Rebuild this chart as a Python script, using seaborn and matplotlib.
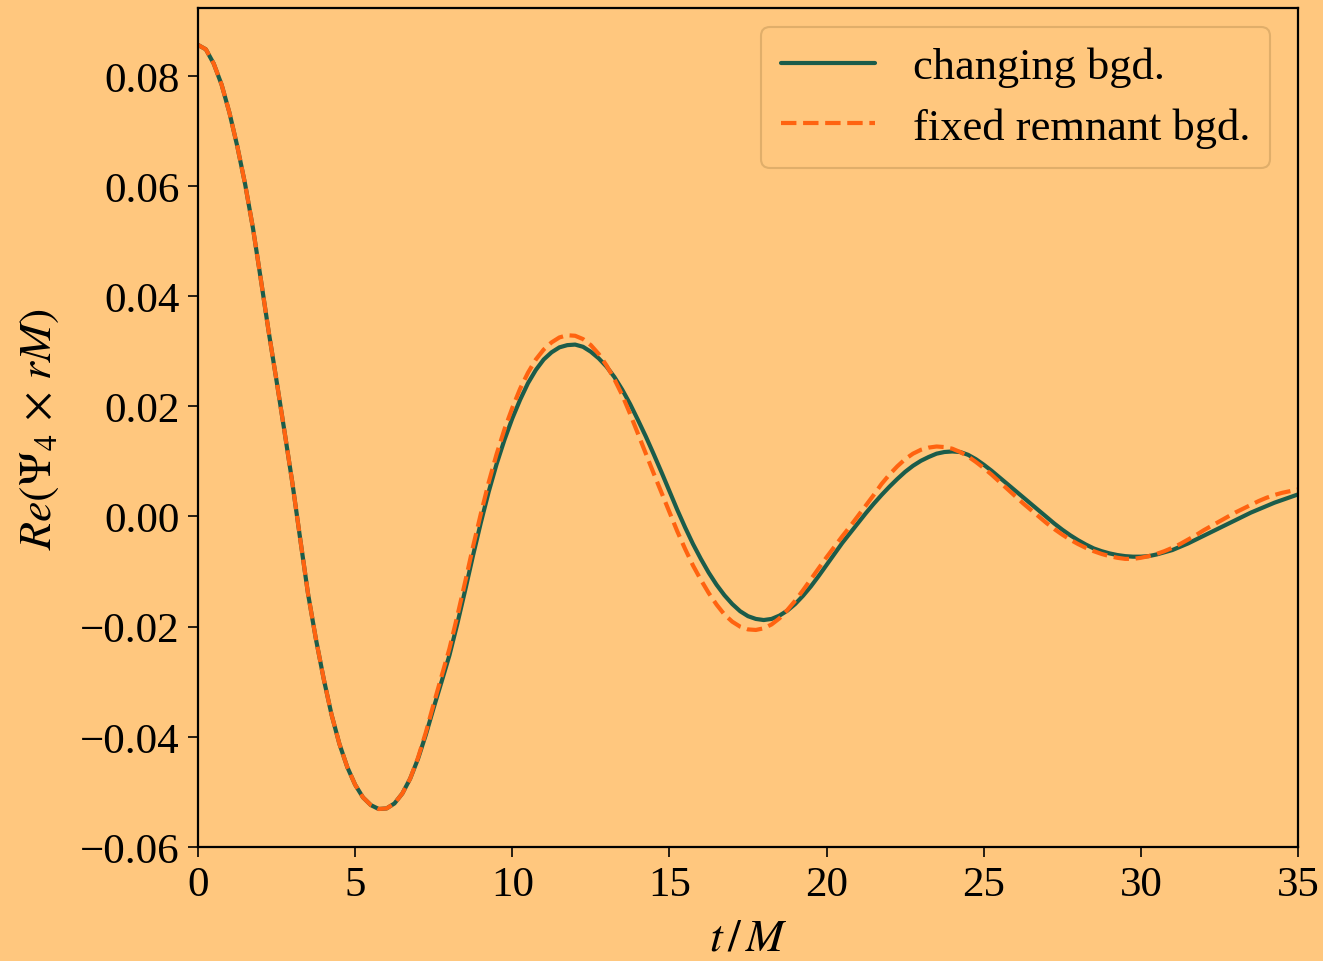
import numpy as np
import pandas as pd
import matplotlib
matplotlib.use("Agg")
import matplotlib.pyplot as plt
import seaborn as sns

# ---- data (t step 0.25) ----
t_vals = [i * 0.25 for i in range(141)]

changing_bgd = [
    0.0856, 0.0848, 0.0822, 0.0784,
    0.0733, 0.0672, 0.0603, 0.0523,
    0.0430, 0.0335, 0.0246, 0.0155,
    0.0062, -0.0040, -0.0140, -0.0222,
    -0.0295, -0.0360, -0.0413, -0.0455,
    -0.0487, -0.0510, -0.0524, -0.0531,
    -0.0530, -0.0521, -0.0503, -0.0476,
    -0.0440, -0.0396, -0.0347, -0.0300,
    -0.0252, -0.0195, -0.0134, -0.0071,
    -0.0011, 0.0045, 0.0095, 0.0139,
    0.0178, 0.0212, 0.0242, 0.0266,
    0.0285, 0.0298, 0.0307, 0.0311,
    0.0312, 0.0308, 0.0299, 0.0287,
    0.0272, 0.0253, 0.0230, 0.0204,
    0.0175, 0.0145, 0.0113, 0.0080,
    0.0046, 0.0012, -0.0020, -0.0050,
    -0.0077, -0.0102, -0.0124, -0.0143,
    -0.0159, -0.0172, -0.0181, -0.0186,
    -0.0188, -0.0186, -0.0180, -0.0171,
    -0.0159, -0.0144, -0.0127, -0.0108,
    -0.0088, -0.0068, -0.0048, -0.0030,
    -0.0012, 0.0006, 0.0023, 0.0039,
    0.0054, 0.0068, 0.0081, 0.0092,
    0.0101, 0.0108, 0.0114, 0.0117,
    0.0118, 0.0117, 0.0112, 0.0104,
    0.0094, 0.0083, 0.0071, 0.0059,
    0.0047, 0.0035, 0.0023, 0.0011,
    -0.0001, -0.0013, -0.0024, -0.0034,
    -0.0043, -0.0051, -0.0058, -0.0063,
    -0.0067, -0.0070, -0.0072, -0.0073,
    -0.0073, -0.0072, -0.0069, -0.0065,
    -0.0061, -0.0055, -0.0049, -0.0042,
    -0.0035, -0.0028, -0.0021, -0.0014,
    -0.0007, 0.0000, 0.0007, 0.0013,
    0.0019, 0.0025, 0.0030, 0.0035,
    0.0040,
]

fixed_remnant_bgd = [
    0.0856, 0.0848, 0.0822, 0.0784,
    0.0733, 0.0672, 0.0603, 0.0523,
    0.0430, 0.0335, 0.0246, 0.0155,
    0.0062, -0.0040, -0.0140, -0.0222,
    -0.0295, -0.0360, -0.0413, -0.0455,
    -0.0487, -0.0510, -0.0524, -0.0531,
    -0.0530, -0.0521, -0.0503, -0.0476,
    -0.0438, -0.0392, -0.0340, -0.0290,
    -0.0240, -0.0181, -0.0119, -0.0055,
    0.0005, 0.0062, 0.0113, 0.0158,
    0.0197, 0.0232, 0.0261, 0.0285,
    0.0303, 0.0316, 0.0325, 0.0329,
    0.0328, 0.0322, 0.0311, 0.0295,
    0.0274, 0.0249, 0.0220, 0.0186,
    0.0150, 0.0114, 0.0078, 0.0043,
    0.0008, -0.0027, -0.0059, -0.0089,
    -0.0115, -0.0139, -0.0160, -0.0178,
    -0.0191, -0.0200, -0.0205, -0.0206,
    -0.0203, -0.0196, -0.0185, -0.0170,
    -0.0153, -0.0134, -0.0114, -0.0094,
    -0.0074, -0.0055, -0.0036, -0.0018,
    0.0001, 0.0020, 0.0039, 0.0059,
    0.0076, 0.0091, 0.0104, 0.0114,
    0.0121, 0.0125, 0.0127, 0.0126,
    0.0123, 0.0117, 0.0109, 0.0099,
    0.0088, 0.0076, 0.0063, 0.0050,
    0.0037, 0.0024, 0.0012, 0.0000,
    -0.0012, -0.0023, -0.0033, -0.0042,
    -0.0050, -0.0057, -0.0063, -0.0068,
    -0.0072, -0.0075, -0.0077, -0.0077,
    -0.0075, -0.0072, -0.0068, -0.0063,
    -0.0057, -0.0050, -0.0042, -0.0034,
    -0.0025, -0.0017, -0.0009, -0.0001,
    0.0007, 0.0014, 0.0021, 0.0028,
    0.0034, 0.0039, 0.0043, 0.0046,
    0.0049,
]

series_labels = ["changing bgd.", "fixed remnant bgd."]
x_ticks = [0, 5, 10, 15, 20, 25, 30, 35]
y_ticks = [-0.06, -0.04, -0.02, 0.00, 0.02, 0.04, 0.06, 0.08]

df = pd.DataFrame({
    "t": t_vals * 2,
    "val": changing_bgd + fixed_remnant_bgd,
    "series": [series_labels[0]] * len(t_vals) + [series_labels[1]] * len(t_vals),
})

bg = "#FFC77E"
sns.set_theme(style="ticks")
plt.rcParams["font.family"] = ["Liberation Serif", "DejaVu Serif"]
plt.rcParams["mathtext.fontset"] = "stix"
plt.rcParams["axes.unicode_minus"] = True
plt.rcParams["text.color"] = "black"
plt.rcParams["axes.labelcolor"] = "black"
plt.rcParams["xtick.color"] = "black"
plt.rcParams["ytick.color"] = "black"

fig = plt.figure(figsize=(13.23, 9.62), dpi=100, facecolor=bg)
ax = fig.add_axes([198 / 1323, 1 - 848 / 962, 1100 / 1323, 839 / 962])
ax.set_facecolor(bg)

sns.lineplot(
    data=df, x="t", y="val", hue="series", style="series",
    palette={series_labels[0]: "#1B5C4A", series_labels[1]: "#FF6310"},
    dashes={series_labels[0]: "", series_labels[1]: (3.7, 1.6)},
    linewidth=3.0, ax=ax, sort=False, estimator=None,
)

ax.set_xlim(0, 35)
ax.set_ylim(-0.06, 0.0923)
ax.set_xticks(x_ticks)
ax.set_yticks(y_ticks)
ax.set_xticklabels([str(v) for v in x_ticks])
ax.set_yticklabels([f"{v:.2f}".replace("-", "\u2212") for v in y_ticks])
ax.tick_params(axis="both", labelsize=31, length=7, width=1.2, direction="out",
               colors="black", pad=6)
for sp in ax.spines.values():
    sp.set_linewidth(1.6)
    sp.set_color("black")

ax.set_xlabel(r"$t\,/\,M$", fontsize=33, labelpad=10, color="black")
ax.set_ylabel(r"$Re(\Psi_4\,\times\,rM)$", fontsize=33, labelpad=14, color="black")

leg = ax.legend(loc="upper right", fontsize=32, frameon=True, handlelength=2.1,
                borderpad=0.45, labelspacing=0.45, handletextpad=0.85,
                borderaxespad=0.0, bbox_to_anchor=(0.9745, 0.9775))
leg.get_frame().set_facecolor(bg)
leg.get_frame().set_edgecolor("#D9A865")
leg.get_frame().set_linewidth(1.5)
for txt in leg.get_texts():
    txt.set_color("black")

fig.savefig("out.png", dpi=100, facecolor=bg)
